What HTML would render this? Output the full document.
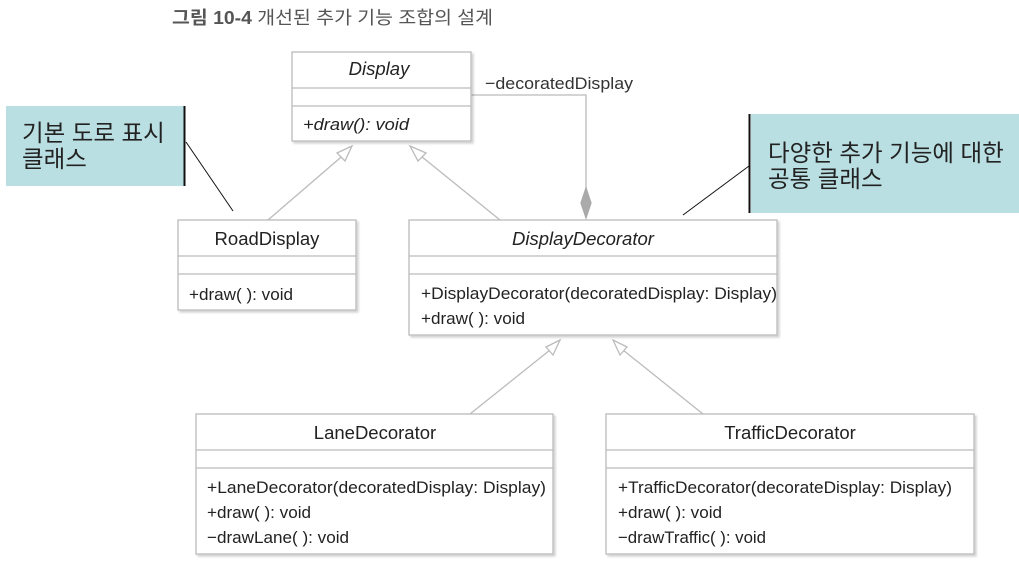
<!DOCTYPE html>
<html><head><meta charset="utf-8"><style>
html,body{margin:0;padding:0;background:#fff;width:1019px;height:570px;overflow:hidden}
svg text{font-family:"Liberation Sans","Noto Sans CJK KR",sans-serif;fill:#222}
</style></head><body>
<svg width="1019" height="570" xmlns="http://www.w3.org/2000/svg">
<defs><filter id="s" x="-5%" y="-5%" width="110%" height="110%"><feDropShadow dx="2" dy="2" stdDeviation="1" flood-color="#000" flood-opacity="0.18"/></filter></defs>
<text x="172" y="24" font-size="18" font-weight="bold" style="fill:#555" textLength="321" lengthAdjust="spacingAndGlyphs">그림 10-4 <tspan font-weight="normal">개선된 추가 기능 조합의 설계</tspan></text>

<rect x="6" y="106" width="178" height="80" fill="#b9dfe2"/>
<line x1="184.5" y1="106" x2="184.5" y2="186" stroke="#111" stroke-width="2"/>
<text x="22" y="141" font-size="23.5">기본 도로 표시</text>
<text x="22" y="167" font-size="23.5">클래스</text>
<line x1="186" y1="142" x2="233" y2="211" stroke="#111" stroke-width="1"/>

<rect x="751" y="114" width="268" height="99" fill="#b9dfe2"/>
<line x1="749.5" y1="114" x2="749.5" y2="213" stroke="#111" stroke-width="2"/>
<text x="768" y="161" font-size="23.5">다양한 추가 기능에 대한</text>
<text x="768" y="187" font-size="23.5">공통 클래스</text>
<line x1="749" y1="166" x2="683" y2="215" stroke="#111" stroke-width="1"/>

<g stroke="#bbb" stroke-width="1.3" fill="none">
<line x1="268" y1="220" x2="347" y2="152"/>
<polygon points="352,146 337,153 345,161" fill="#fff"/>
<line x1="500" y1="220" x2="416" y2="152"/>
<polygon points="410,146 418,161 426,153" fill="#fff"/>
<line x1="470" y1="414" x2="555" y2="346"/>
<polygon points="560,340 546,347 553,355" fill="#fff"/>
<line x1="703" y1="414" x2="618" y2="346"/>
<polygon points="613,340 620,355 627,347" fill="#fff"/>
<polyline points="471,95 586,95 586,190"/>
<polygon points="586,188 591,203 586,218 581,203" fill="#aaa" stroke="#aaa"/>
</g>
<text x="485" y="89" font-size="17" style="fill:#333" textLength="148" lengthAdjust="spacingAndGlyphs">−decoratedDisplay</text>

<g fill="#fff" stroke="#bbb" stroke-width="1.3" filter="url(#s)">
<rect x="292" y="52" width="179" height="89"/>
<rect x="178" y="220" width="178" height="90"/>
<rect x="409" y="220" width="368" height="115"/>
<rect x="196" y="414" width="357" height="140"/>
<rect x="606" y="414" width="368" height="140"/>
</g>
<g stroke="#bbb" stroke-width="1.3">
<line x1="292" y1="88" x2="471" y2="88"/><line x1="292" y1="106" x2="471" y2="106"/>
<line x1="178" y1="256" x2="356" y2="256"/><line x1="178" y1="274" x2="356" y2="274"/>
<line x1="409" y1="256" x2="777" y2="256"/><line x1="409" y1="274" x2="777" y2="274"/>
<line x1="196" y1="450" x2="553" y2="450"/><line x1="196" y1="468" x2="553" y2="468"/>
<line x1="606" y1="450" x2="974" y2="450"/><line x1="606" y1="468" x2="974" y2="468"/>
</g>

<g font-size="17">
<text x="379" y="75" text-anchor="middle" font-style="italic" font-size="18.5">Display</text>
<text x="303" y="130" font-style="italic" textLength="106" lengthAdjust="spacingAndGlyphs">+draw(): void</text>
<text x="267" y="245" text-anchor="middle" font-size="18.5">RoadDisplay</text>
<text x="189" y="300" textLength="104" lengthAdjust="spacingAndGlyphs">+draw( ): void</text>
<text x="583" y="245" text-anchor="middle" font-style="italic" font-size="18.5">DisplayDecorator</text>
<text x="421" y="299" textLength="356" lengthAdjust="spacingAndGlyphs">+DisplayDecorator(decoratedDisplay: Display)</text>
<text x="421" y="324" textLength="104" lengthAdjust="spacingAndGlyphs">+draw( ): void</text>
<text x="375" y="439" text-anchor="middle" font-size="18.5">LaneDecorator</text>
<text x="207" y="493" textLength="339" lengthAdjust="spacingAndGlyphs">+LaneDecorator(decoratedDisplay: Display)</text>
<text x="207" y="518" textLength="104" lengthAdjust="spacingAndGlyphs">+draw( ): void</text>
<text x="207" y="543" textLength="142" lengthAdjust="spacingAndGlyphs">−drawLane( ): void</text>
<text x="790" y="439" text-anchor="middle" font-size="18.5">TrafficDecorator</text>
<text x="618" y="493" textLength="334" lengthAdjust="spacingAndGlyphs">+TrafficDecorator(decorateDisplay: Display)</text>
<text x="618" y="518" textLength="104" lengthAdjust="spacingAndGlyphs">+draw( ): void</text>
<text x="618" y="543" textLength="148" lengthAdjust="spacingAndGlyphs">−drawTraffic( ): void</text>
</g>
</svg>
</body></html>
